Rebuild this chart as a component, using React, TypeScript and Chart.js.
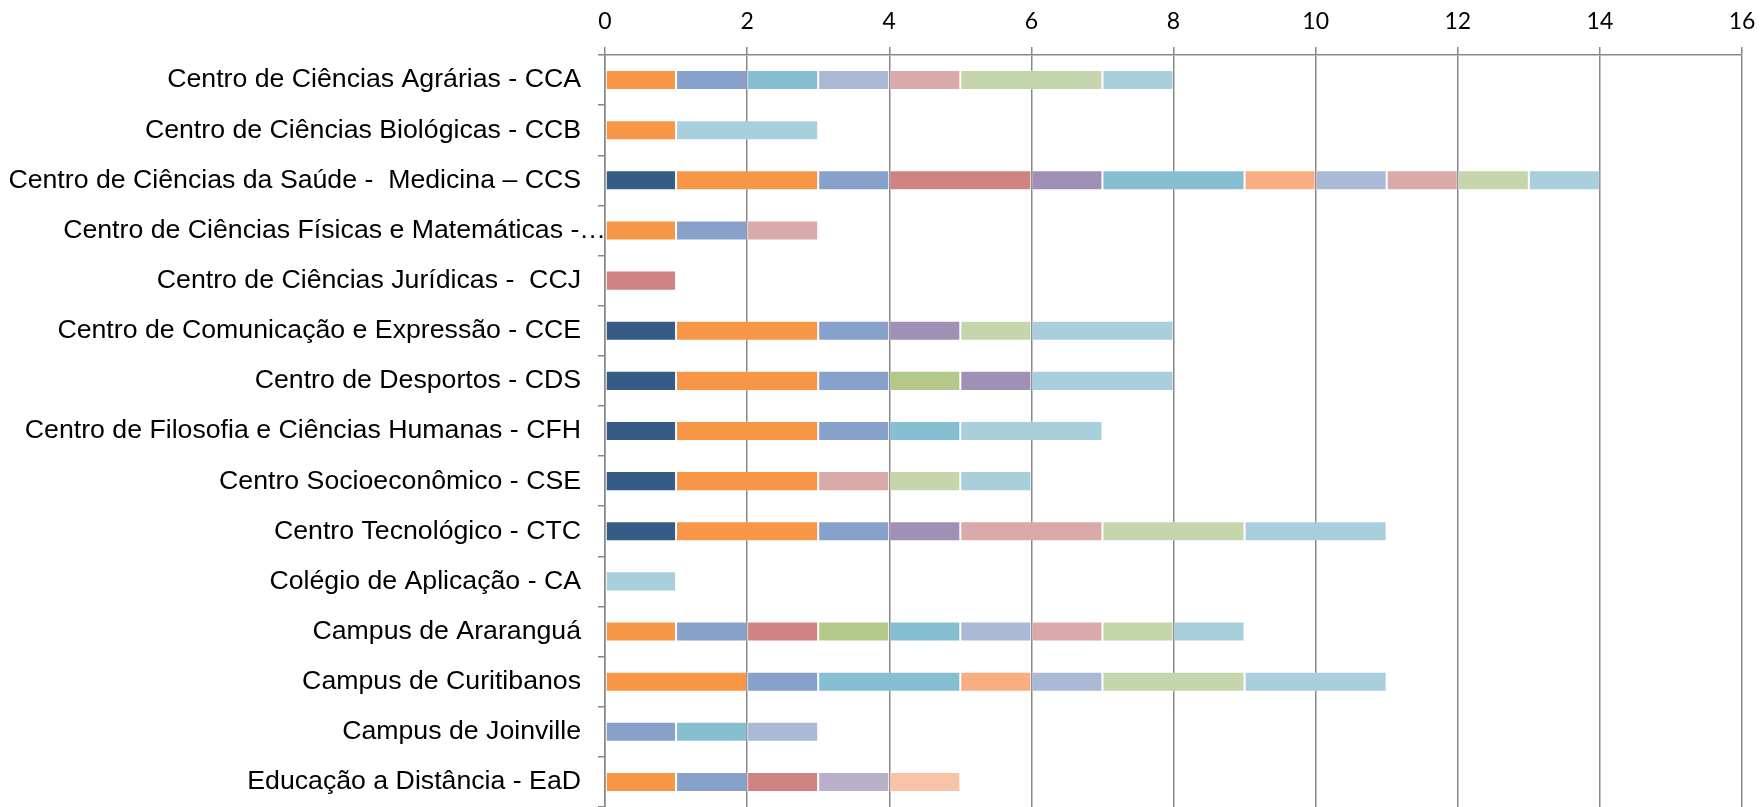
import React, { useEffect, useRef } from "react";
import { Chart, registerables } from "chart.js";

Chart.register(...registerables);

const categories: string[] = [
  "Centro de Ciências Agrárias - CCA",
  "Centro de Ciências Biológicas - CCB",
  "Centro de Ciências da Saúde -  Medicina – CCS",
  "Centro de Ciências Físicas e Matemáticas -…",
  "Centro de Ciências Jurídicas -  CCJ",
  "Centro de Comunicação e Expressão - CCE",
  "Centro de Desportos - CDS",
  "Centro de Filosofia e Ciências Humanas - CFH",
  "Centro Socioeconômico - CSE",
  "Centro Tecnológico - CTC",
  "Colégio de Aplicação - CA",
  "Campus de Araranguá",
  "Campus de Curitibanos",
  "Campus de Joinville",
  "Educação a Distância - EaD",
];

const xTicks: number[] = [0, 2, 4, 6, 8, 10, 12, 14, 16];

const serie1: number[] = [0, 0, 1, 0, 0, 1, 1, 1, 1, 1, 0, 0, 0, 0, 0];
const serie2: number[] = [1, 1, 2, 1, 0, 2, 2, 2, 2, 2, 0, 1, 2, 0, 1];
const serie3: number[] = [1, 0, 1, 1, 0, 1, 1, 1, 0, 1, 0, 1, 1, 1, 1];
const serie4: number[] = [0, 0, 2, 0, 1, 0, 0, 0, 0, 0, 0, 1, 0, 0, 1];
const serie5: number[] = [0, 0, 0, 0, 0, 0, 1, 0, 0, 0, 0, 1, 0, 0, 0];
const serie6: number[] = [0, 0, 1, 0, 0, 1, 1, 0, 0, 1, 0, 0, 0, 0, 0];
const serie7: number[] = [1, 0, 2, 0, 0, 0, 0, 1, 0, 0, 0, 1, 2, 1, 0];
const serie8: number[] = [0, 0, 1, 0, 0, 0, 0, 0, 0, 0, 0, 0, 1, 0, 0];
const serie9: number[] = [1, 0, 1, 0, 0, 0, 0, 0, 0, 0, 0, 1, 1, 1, 0];
const serie10: number[] = [1, 0, 1, 1, 0, 0, 0, 0, 1, 2, 0, 1, 0, 0, 0];
const serie11: number[] = [2, 0, 1, 0, 0, 1, 0, 0, 1, 2, 0, 1, 2, 0, 0];
const serie12: number[] = [1, 2, 1, 0, 0, 2, 2, 2, 1, 2, 1, 1, 2, 0, 0];
const serie13: number[] = [0, 0, 0, 0, 0, 0, 0, 0, 0, 0, 0, 0, 0, 0, 1];
const serie14: number[] = [0, 0, 0, 0, 0, 0, 0, 0, 0, 0, 0, 0, 0, 0, 1];

const seriesValues: number[][] = [
  serie1, serie2, serie3, serie4, serie5, serie6, serie7,
  serie8, serie9, serie10, serie11, serie12, serie13, serie14,
];

const seriesColors: string[] = [
  "#365B87", "#F79646", "#87A1CB", "#CF8482", "#B2C98A", "#A190B6", "#86BFD1",
  "#F9AE82", "#AAB9D6", "#DAAAAA", "#C6D6AC", "#A9CEDC", "#B9AFC9", "#F9C3A8",
];

const GRID = "#888888";
const LABEL_FONT = '26.7px "Liberation Sans", Arial, sans-serif';

const yLabelPlugin = {
  id: "yLabels",
  afterDraw(chart: any) {
    const ctx = chart.ctx;
    const ys = chart.scales.y;
    const left = chart.chartArea.left;
    ctx.save();
    ctx.font = LABEL_FONT;
    ctx.fillStyle = "#000000";
    ctx.textAlign = "right";
    ctx.textBaseline = "middle";
    categories.forEach((c, i) => {
      const y = ys.getPixelForValue(i);
      const x = c.endsWith("…") ? left + 1 : left - 24;
      ctx.fillText(c, x, y);
    });
    ctx.restore();
  },
};

export default function App() {
  const ref = useRef<HTMLCanvasElement | null>(null);

  useEffect(() => {
    if (!ref.current) return;
    const chart = new Chart(ref.current, {
      type: "bar",
      data: {
        labels: categories,
        datasets: seriesValues.map((vals, i) => ({
          label: "Série " + (i + 1),
          data: vals.map((v) => (v === 0 ? null : v)),
          backgroundColor: seriesColors[i],
          borderColor: "rgba(255,255,255,0.2)",
          borderWidth: 1,
          borderSkipped: false,
          barPercentage: 0.4,
          categoryPercentage: 1,
        })),
      },
      options: {
        indexAxis: "y",
        responsive: false,
        animation: false,
        layout: { padding: { left: 0, right: 18, top: 0, bottom: 0 } },
        plugins: {
          legend: { display: false },
          tooltip: { enabled: false },
        },
        scales: {
          x: {
            position: "top",
            stacked: true,
            min: 0,
            max: 16,
            afterFit: (s: any) => {
              s.height = 55;
              s.paddingLeft = 0;
              s.paddingRight = 0;
            },
            afterBuildTicks: (s: any) => {
              s.ticks = xTicks.map((v) => ({ value: v }));
            },
            ticks: {
              color: "#000000",
              padding: 12,
              font: { family: "Lato, 'Open Sans', sans-serif", size: 23 },
            },
            grid: {
              color: GRID,
              lineWidth: 1.5,
              tickLength: 8,
              drawTicks: true,
            },
            border: { display: true, color: GRID, width: 1.5 },
          },
          y: {
            type: "category",
            stacked: true,
            afterFit: (s: any) => {
              s.width = 605;
            },
            ticks: { display: false },
            grid: {
              offset: true,
              drawOnChartArea: false,
              drawTicks: true,
              tickLength: 7,
              color: GRID,
              lineWidth: 1.5,
            },
            border: { display: true, color: GRID, width: 1.5 },
          },
        },
      },
      plugins: [yLabelPlugin],
    } as any);
    return () => chart.destroy();
  }, []);

  return (
    <div style={{ position: "fixed", left: 0, top: 0, width: 1760, height: 807, background: "#ffffff" }}>
      <canvas ref={ref} width={1760} height={807} style={{ display: "block" }} />
    </div>
  );
}
